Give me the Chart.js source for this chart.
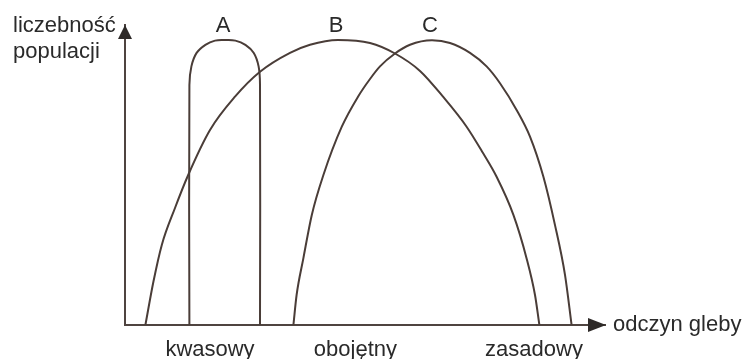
<!DOCTYPE html>
<html>
<head>
<meta charset="utf-8">
<script src="https://cdn.jsdelivr.net/npm/chart.js@4.4.1/dist/chart.umd.min.js"></script>
<style>
  html, body { margin: 0; padding: 0; background: #fff; }
</style>
</head>
<body>
<canvas id="myChart" width="745" height="360"></canvas>
<script>
// curve points: [soil reaction, population size]
const curveA = [[16.1, 0], [16.1, 80], [16.6, 86.2], [17.9, 90.7], [20.1, 93.4], [22.5, 94.8],
  [25, 95], [27.6, 94.8], [30.1, 93.4], [32.2, 90.7], [33.4, 86.2], [33.75, 80], [33.75, 0]];
const curveB = [[5.1, 0], [7.1, 14.4], [9.2, 26.7], [12.5, 39], [15.8, 50], [21.25, 65],
  [27.5, 76.1], [33.75, 84.4], [41.25, 90.7], [46.25, 93.4], [53.25, 95], [61.25, 94],
  [67.5, 90.5], [73.75, 84.7], [79.5, 76.1], [85.4, 66.1], [89.5, 57.3], [92.9, 49.4],
  [97.1, 36.7], [100.4, 22.2], [102.5, 10], [103.6, 0]];
const curveC = [[42.1, 0], [42.9, 10], [44.6, 22.3], [46.7, 36.7], [49.6, 50], [54.2, 66.1],
  [58.25, 76.1], [61.25, 82], [63.75, 86.2], [67.5, 90.5], [71.25, 93.4], [76.75, 94.9],
  [81.25, 94], [86.25, 90.7], [90.4, 86.2], [93.75, 80.6], [97.9, 71.7], [101.25, 62.8],
  [104.6, 49.4], [107.5, 33.3], [110, 16.7], [111.65, 0]];
const seriesNames = ['A', 'B', 'C'];
const phTickValues = [21.25, 57.6, 102.25];
const phTickLabels = ['kwasowy', 'obojętny', 'zasadowy'];
const yTitle = ['liczebność', 'populacji'];
const xTitle = 'odczyn gleby';

const lineColor = '#4a3d38';
const axisColor = '#4f4440';
const textColor = '#2a2a2a';
const fontFamily = '"Liberation Sans", Arial, sans-serif';

const seriesData = [curveA, curveB, curveC];

const axisDecor = {
  id: 'axisDecor',
  afterDraw(chart) {
    const { ctx, chartArea: a, scales } = chart;
    ctx.save();
    ctx.fillStyle = '#2e2a28';
    // arrow heads
    ctx.beginPath();
    ctx.moveTo(a.left, a.top);
    ctx.lineTo(a.left - 7, a.top + 14);
    ctx.lineTo(a.left + 7, a.top + 14);
    ctx.closePath();
    ctx.fill();
    ctx.beginPath();
    ctx.moveTo(a.right + 1, a.bottom);
    ctx.lineTo(a.right - 17, a.bottom - 7);
    ctx.lineTo(a.right - 17, a.bottom + 7);
    ctx.closePath();
    ctx.fill();

    ctx.font = '22px ' + fontFamily;
    ctx.fillStyle = textColor;
    ctx.textAlign = 'left';
    ctx.textBaseline = 'alphabetic';
    ctx.fillText(yTitle[0], 13, 32);
    ctx.fillText(yTitle[1], 13, 58);
    ctx.textBaseline = 'middle';
    ctx.fillText(xTitle, a.right + 8, a.bottom);

    // A, B, C over the tops
    ctx.textAlign = 'center';
    ctx.textBaseline = 'alphabetic';
    chart.data.datasets.forEach(ds => {
      const peak = ds.data.reduce((m, p) => (p.y > m.y ? p : m));
      ctx.fillText(ds.label, scales.x.getPixelForValue(peak.x) - 2, scales.y.getPixelForValue(peak.y) - 8);
    });
    ctx.restore();
  }
};

const ctx = document.getElementById('myChart').getContext('2d');
new Chart(ctx, {
  type: 'scatter',
  data: {
    datasets: seriesNames.map((name, i) => ({
      label: name,
      data: seriesData[i].map(p => ({ x: p[0], y: p[1] })),
      showLine: true,
      borderColor: lineColor,
      borderWidth: 2,
      pointRadius: 0,
      tension: 0.4,
      cubicInterpolationMode: i === 0 ? 'default' : 'monotone',
      fill: false
    }))
  },
  options: {
    responsive: false,
    animation: false,
    layout: { padding: { left: 125, right: 140, top: 25, bottom: 1 } },
    plugins: { legend: { display: false }, tooltip: { enabled: false } },
    scales: {
      x: {
        type: 'linear',
        min: 0,
        max: 120,
        grid: { display: false, drawTicks: false },
        border: { display: true, color: axisColor, width: 2 },
        afterBuildTicks: axis => { axis.ticks = phTickValues.map(v => ({ value: v })); },
        afterFit: axis => { axis.height = 34; },
        ticks: {
          padding: 14,
          autoSkip: false,
          maxRotation: 0,
          color: textColor,
          font: { family: fontFamily, size: 22, lineHeight: 1 },
          callback: (v, i) => phTickLabels[i]
        }
      },
      y: {
        min: 0,
        max: 100,
        grid: { display: false, drawTicks: false },
        border: { display: true, color: axisColor, width: 2 },
        ticks: { display: false }
      }
    }
  },
  plugins: [axisDecor]
});
</script>
</body>
</html>
